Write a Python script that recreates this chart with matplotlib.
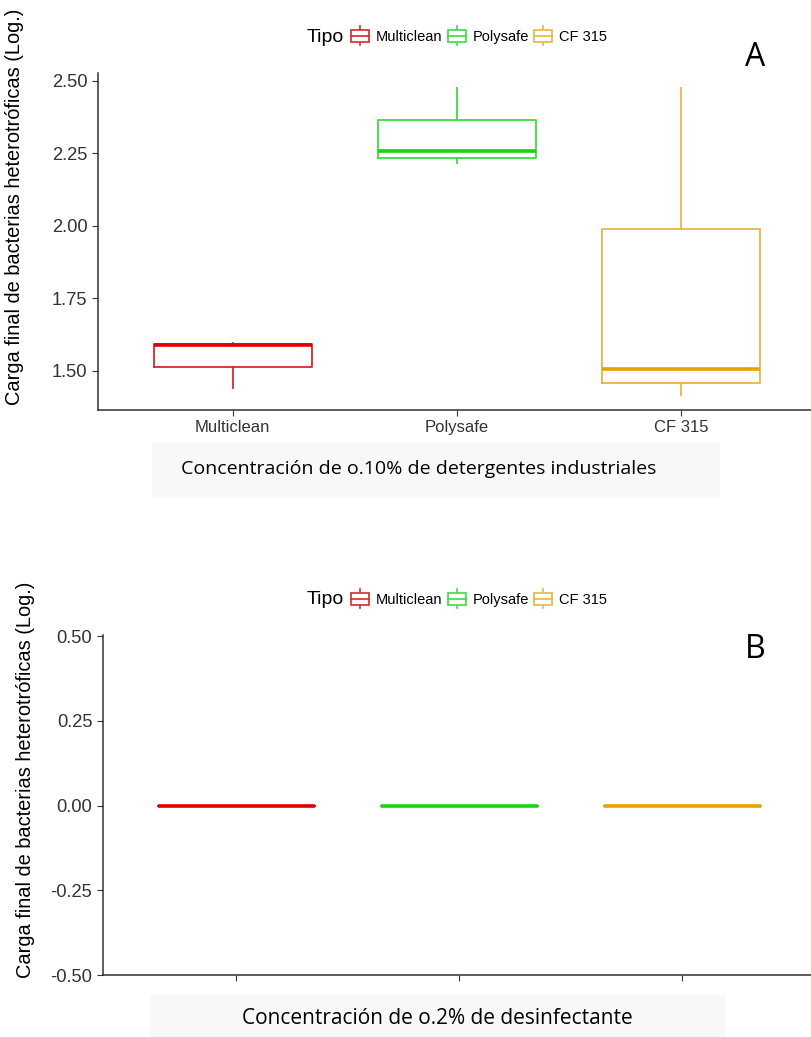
import matplotlib.pyplot as plt
from matplotlib.legend_handler import HandlerBase
from matplotlib.patches import Rectangle
from matplotlib.lines import Line2D

plt.rcParams["font.family"] = ["Liberation Sans", "DejaVu Sans"]

# data
tipos = ["Multiclean", "Polysafe", "CF 315"]
colores = ["#d42a2e", "#3fdc3f", "#e6b544"]
medianas_color = ["#e00000", "#14d614", "#e8a100"]

# boxplot stats per product, 0.10% detergents
whislo_a = [1.439, 2.217, 1.416]
q1_a = [1.513, 2.233, 1.459]
med_a = [1.589, 2.259, 1.505]
q3_a = [1.592, 2.363, 1.989]
whishi_a = [1.597, 2.474, 2.474]

# 0.2% disinfectant: everything collapsed to zero
whislo_b = [0.0, 0.0, 0.0]
q1_b = [0.0, 0.0, 0.0]
med_b = [0.0, 0.0, 0.0]
q3_b = [0.0, 0.0, 0.0]
whishi_b = [0.0, 0.0, 0.0]

ylabel = "Carga final de bacterias heterotróficas (Log.)"
xlabel_a = "Concentración de o.10% de detergentes industriales"
xlabel_b = "Concentración de o.2% de desinfectante"

W, H = 812, 1037


class BoxHandler(HandlerBase):
    """Little box-plot glyph for the legend keys."""

    def create_artists(self, legend, orig_handle, xdescent, ydescent,
                       width, height, fontsize, trans):
        c = orig_handle.get_edgecolor()
        x0 = -xdescent
        rect = Rectangle((x0, -ydescent), width, height,
                         facecolor="white", edgecolor=c, lw=1.2, transform=trans)
        mid = Line2D([x0, x0 + width], [-ydescent + height * 0.5] * 2, color=c,
                     lw=1.2, transform=trans)
        whisk = Line2D([width / 2 - xdescent] * 2,
                       [-ydescent - height * 0.35, -ydescent + height * 1.35],
                       color=c, lw=1.2, transform=trans)
        return [whisk, rect, mid]


def draw_panel(ax, whislo, q1, med, q3, whishi):
    for i, t in enumerate(tipos):
        s = dict(label=t, whislo=whislo[i], q1=q1[i], med=med[i],
                 q3=q3[i], whishi=whishi[i], fliers=[])
        ax.bxp([s], positions=[i + 1], widths=0.705, showcaps=False,
               boxprops=dict(color=colores[i], lw=1.3),
               whiskerprops=dict(color=colores[i], lw=1.3),
               medianprops=dict(color=medianas_color[i], lw=2.6),
               manage_ticks=False)
    ax.set_xticks(range(1, len(tipos) + 1))
    ax.set_xlim(0.4, 3.583)
    for side in ["top", "right"]:
        ax.spines[side].set_visible(False)
    for side in ["left", "bottom"]:
        ax.spines[side].set_color("#333333")
        ax.spines[side].set_linewidth(1.1)
    ax.tick_params(colors="#333333", labelcolor="#333333", length=4)
    ax.tick_params(axis="y", labelsize=13.2)
    ax.tick_params(axis="x", labelsize=12)
    ax.set_ylabel(ylabel, fontsize=14.4, color="black")


def add_legend(fig, y):
    handles = [Rectangle((0, 0), 1, 1, edgecolor=c, facecolor="white")
               for c in colores]
    fig.text(307 / W, y, "Tipo", fontsize=14, va="center", ha="left")
    fig.legend(handles, tipos, handler_map={Rectangle: BoxHandler()},
               loc="center left", bbox_to_anchor=(341 / W, y), ncol=3,
               frameon=False, fontsize=10.5, handlelength=1.25,
               handleheight=0.8, handletextpad=0.45, columnspacing=0.35,
               borderpad=0.2)


def add_xlabel(fig, text, cx, cy, box, size):
    x0, y0, x1, y1 = box
    fig.add_artist(Rectangle((x0 / W, 1 - y1 / H), (x1 - x0) / W,
                             (y1 - y0) / H, transform=fig.transFigure,
                             facecolor="#f8f8f8", edgecolor="none", zorder=0))
    fig.text(cx / W, 1 - cy / H, text, fontsize=size, ha="center",
             va="center", family=["Open Sans", "DejaVu Sans"])


fig = plt.figure(figsize=(W / 100, H / 100), dpi=100)

# panel A
ax1 = fig.add_axes([98 / W, 1 - 410 / H, 1 - 98 / W, 337 / H])
draw_panel(ax1, whislo_a, q1_a, med_a, q3_a, whishi_a)
ax1.set_ylim(1.3645, 2.5266)
ax1.set_yticks([1.50, 1.75, 2.00, 2.25, 2.50])
ax1.set_yticklabels(["1.50", "1.75", "2.00", "2.25", "2.50"])
ax1.set_xticklabels(tipos)
ax1.yaxis.set_label_coords(-0.104, 0.602)
add_legend(fig, 1 - 37 / H)
fig.text(755 / W, 1 - 57 / H, "A", fontsize=23, ha="center",
         va="center", family=["Open Sans", "DejaVu Sans"])
add_xlabel(fig, xlabel_a, 419, 469, (152, 443, 720, 497), 14)

# panel B
ax2 = fig.add_axes([102.7 / W, 1 - 975 / H, 1 - 102.7 / W, 340 / H])
draw_panel(ax2, whislo_b, q1_b, med_b, q3_b, whishi_b)
ax2.set_ylim(-0.5, 0.503)
ax2.set_yticks([-0.50, -0.25, 0.00, 0.25, 0.50])
ax2.set_yticklabels(["-0.50", "-0.25", "0.00", "0.25", "0.50"])
ax2.set_xticklabels([])
ax2.yaxis.set_label_coords(-0.095, 0.574)
add_legend(fig, 1 - 600 / H)
fig.text(755 / W, 1 - 650 / H, "B", fontsize=23, ha="center",
         va="center", family=["Open Sans", "DejaVu Sans"])
add_xlabel(fig, xlabel_b, 437.5, 1018, (150, 995, 725, 1037), 15)

fig.savefig("out.png", dpi=100, facecolor="white")
